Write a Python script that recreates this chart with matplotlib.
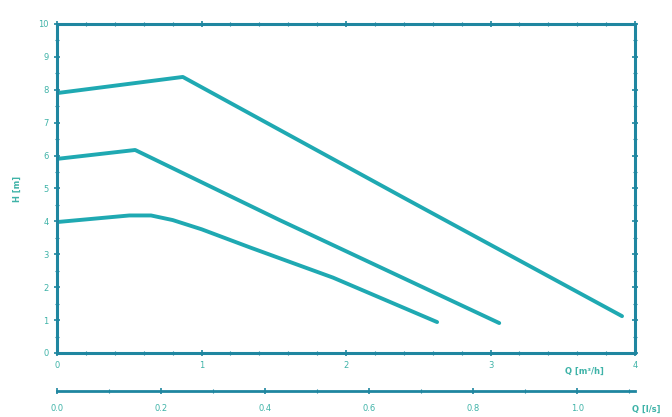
import numpy as np
import matplotlib.pyplot as plt

# pump curves H [m] over Q [m3/h]
q_high = [0.0, 0.87, 2.39, 3.91]
h_high = [7.90, 8.39, 4.74, 1.12]

q_mid = [0.0, 0.54, 1.54, 3.06]
h_mid = [5.90, 6.17, 4.04, 0.91]

q_low = [0.0, 0.30, 0.50, 0.65, 0.80, 1.00, 1.34, 1.91, 2.63]
h_low = [3.98, 4.10, 4.18, 4.18, 4.04, 3.76, 3.20, 2.29, 0.94]

x_ticks = [0, 1, 2, 3, 4]
y_ticks = list(range(0, 11))
ls_ticks = [0.0, 0.2, 0.4, 0.6, 0.8, 1.0]

line_col = '#1fa9b2'
axis_col = '#1f86a0'
text_col = '#3fb3a8'

fig = plt.figure(figsize=(6.72, 4.17), dpi=100)
ax = fig.add_axes([0.085, 0.1535, 0.86, 0.789])

for q, h in [(q_high, h_high), (q_mid, h_mid), (q_low, h_low)]:
    ax.plot(q, h, color=line_col, lw=2.8, solid_capstyle='round', solid_joinstyle='round')

ax.set_xlim(0, 4)
ax.set_ylim(0, 10)
ax.set_xticks(x_ticks)
ax.set_xticklabels([str(t) for t in x_ticks])
ax.set_yticks(y_ticks)
ax.set_xticks(np.arange(0, 4.01, 0.2), minor=True)
ax.set_yticks(np.arange(0, 10.01, 0.5), minor=True)

for s in ax.spines.values():
    s.set_color(axis_col)
    s.set_linewidth(2.2)
ax.tick_params(which='both', colors=axis_col, labelcolor=text_col, labelsize=6,
               top=True, right=True, direction='inout')
ax.tick_params(which='major', length=5, width=1.2)
ax.tick_params(which='minor', length=3, width=0.8)

ax.set_ylabel('H [m]', color=text_col, fontsize=6, fontweight='bold', labelpad=12)
ax.text(3.65, -0.55, 'Q [m³/h]', color=text_col, fontsize=6, fontweight='bold',
        ha='center', va='center')

# second flow scale in l/s below the main axis
sec = ax.secondary_xaxis(-0.115, functions=(lambda x: x / 3.6, lambda x: x * 3.6))
sec.set_xticks(ls_ticks)
sec.set_xticklabels(['%.1f' % t for t in ls_ticks])
sec.set_xticks(np.arange(0, 1.11, 0.1), minor=True)
sec.spines['bottom'].set_color(axis_col)
sec.spines['bottom'].set_linewidth(2.0)
sec.tick_params(which='both', colors=axis_col, labelcolor=text_col, labelsize=6,
                direction='inout', pad=7)
sec.tick_params(which='major', length=5, width=1.2)
sec.tick_params(which='minor', length=3, width=0.8)
ax.text(4.08, -1.72, 'Q [l/s]', color=text_col, fontsize=6, fontweight='bold',
        ha='center', va='center', clip_on=False)

fig.savefig('out.png', dpi=100)
